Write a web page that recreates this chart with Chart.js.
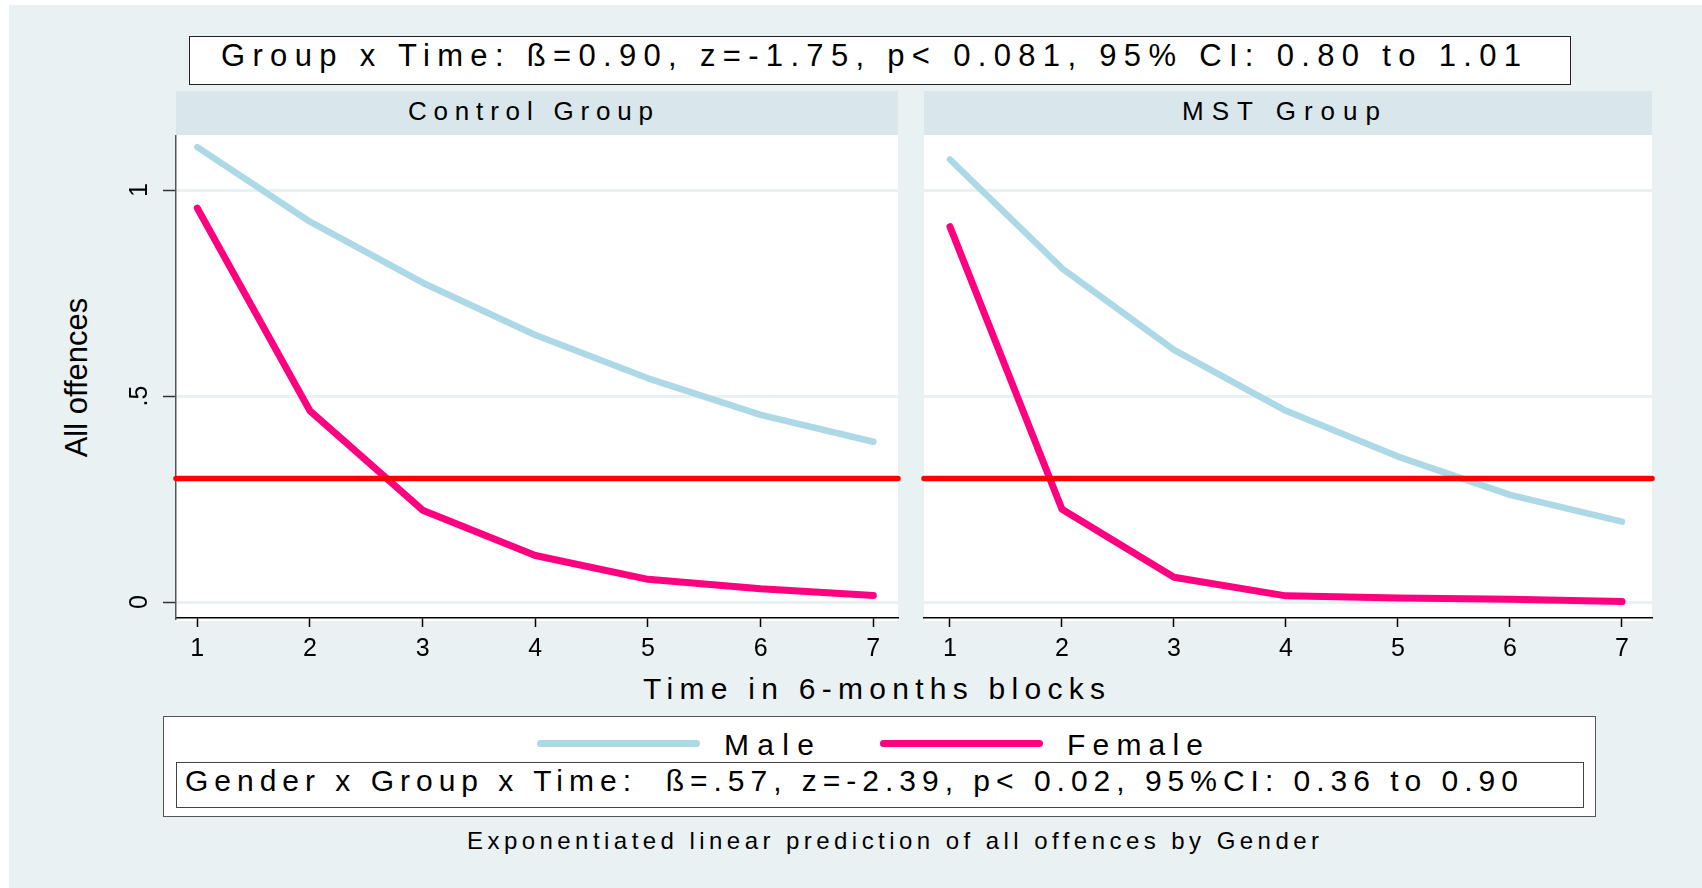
<!DOCTYPE html>
<html>
<head>
<meta charset="utf-8">
<title>All offences by gender, group and time</title>
<script src="https://cdn.jsdelivr.net/npm/chart.js@4.4.1/dist/chart.umd.min.js"></script>
<style>
  html, body { margin: 0; padding: 0; background: #fff; }
  #page { position: relative; width: 1702px; height: 888px; overflow: hidden;
          font-family: 'Liberation Sans', Arial, sans-serif; color: #000; }
  #bg { position: absolute; left: 9px; top: 5px; right: 0; bottom: 0; background: #eaf1f3; }
  .box { position: absolute; background: #fff; box-sizing: border-box; }
  .strip { position: absolute; background: #d9e6eb; }
  .txt { position: absolute; white-space: pre; line-height: 1; }
  .key { position: absolute; height: 7px; border-radius: 4px; }
  canvas { position: absolute; }
</style>
</head>
<body>
<div id="page">
  <div id="bg"></div>
  <div class="box" style="left:189px;top:36px;width:1382px;height:49px;border:1.5px solid #222;"></div>
  <div class="strip" style="left:176px;top:91px;width:722px;height:44px;"></div>
  <div class="strip" style="left:924px;top:91px;width:728px;height:44px;"></div>
  <canvas id="controlChart" width="792" height="533" style="left:110px;top:135px;"></canvas>
  <canvas id="mstChart" width="742" height="533" style="left:914px;top:135px;"></canvas>
  <div class="box" style="left:163px;top:716px;width:1433px;height:101px;border:1.5px solid #555;"></div>
  <div class="box" style="left:176px;top:762px;width:1408px;height:46px;border:1.5px solid #444;"></div>
  <div class="key" style="left:537px;top:739.5px;width:163px;background:#add8e6;"></div>
  <div class="key" style="left:880px;top:739.5px;width:163px;background:#ff0080;"></div>
</div>

<script>
// values (exponentiated linear prediction)
const timeBlocks = [1, 2, 3, 4, 5, 6, 7];
const controlMale   = [1.104, 0.923, 0.775, 0.648, 0.543, 0.454, 0.389];
const controlFemale = [0.956, 0.464, 0.223, 0.113, 0.055, 0.032, 0.016];
const mstMale       = [1.074, 0.810, 0.612, 0.464, 0.353, 0.260, 0.195];
const mstFemale     = [0.911, 0.225, 0.060, 0.015, 0.010, 0.007, 0.001];
const cutoff = 0.3;
const yTicks = [0, 0.5, 1];
const yTickLabels = ['0', '.5', '1'];

const FONT = "'Liberation Sans', Arial, sans-serif";
const page = document.getElementById('page');


/**
 * Put a line of text on the page, stretched with letter spacing to a given width
 */
function addText(txt, x0, x1, cy, size) {
    const d = document.createElement('div');
    d.className = 'txt';
    d.textContent = txt;
    d.style.fontSize = size + 'px';
    page.appendChild(d);
    const natural = d.getBoundingClientRect().width;
    d.style.letterSpacing = ((x1 - x0) - natural) / (txt.length - 1) + 'px';
    d.style.left = x0 + 'px';
    d.style.top = (cy - 0.4885 * size) + 'px';
    return d;
}

addText('Group x Time: ß=0.90, z=-1.75, p< 0.081, 95% CI: 0.80 to 1.01', 221, 1521, 55.5, 31);
addText('Control Group', 408, 653, 110.5, 26);
addText('MST Group', 1182, 1380, 110.5, 26);
addText('Time in 6-months blocks', 643, 1105, 689, 30);
addText('Male', 724, 814, 745, 30);
addText('Female', 1067, 1203, 745, 30);
addText('Gender x Group x Time:  ß=.57, z=-2.39, p< 0.02, 95%CI: 0.36 to 0.90', 185, 1518, 781, 30);
addText('Exponentiated linear prediction of all offences by Gender', 467, 1319, 840.3, 24);

// y axis title, rotated
(function () {
    const d = document.createElement('div');
    d.className = 'txt';
    d.textContent = 'All offences';
    d.style.fontSize = '31px';
    page.appendChild(d);
    const w = d.getBoundingClientRect().width;
    d.style.left = (77 - w / 2) + 'px';
    d.style.top = (377 - 15.5) + 'px';
    d.style.transform = 'rotate(-90deg)';
})();


// white plot region behind the lines
const plotBackground = {
    id: 'plotBackground',
    beforeDraw(chart) {
        const { ctx, chartArea: a } = chart;
        ctx.save();
        ctx.fillStyle = '#fff';
        ctx.fillRect(a.left, a.top, a.right - a.left, a.bottom - a.top + 3);
        ctx.restore();
    }
};

// Stata style vertical tick labels on the y axis
const rotatedYLabels = {
    id: 'rotatedYLabels',
    afterDraw(chart) {
        const s = chart.scales.y;
        const ctx = chart.ctx;
        ctx.save();
        ctx.font = '25px ' + FONT;
        ctx.fillStyle = '#000';
        ctx.textAlign = 'center';
        ctx.textBaseline = 'middle';
        s.ticks.forEach((t, i) => {
            ctx.save();
            ctx.translate(s.left - 22.5, s.getPixelForValue(t.value));
            ctx.rotate(-Math.PI / 2);
            ctx.fillText(yTickLabels[i], 0, 0);
            ctx.restore();
        });
        ctx.restore();
    }
};


function panelChart(canvasId, male, female, xMin, xMax, showYAxis, padLeft) {
    const toPoints = vals => timeBlocks.map((t, i) => ({ x: t, y: vals[i] }));

    return new Chart(document.getElementById(canvasId), {
        type: 'line',
        data: {
            datasets: [
                {
                    label: 'cutoff',
                    data: [{ x: xMin, y: cutoff }, { x: xMax, y: cutoff }],
                    borderColor: '#ff0000',
                    borderWidth: 5.5,
                    clip: 10
                },
                { label: 'Male', data: toPoints(male), borderColor: '#add8e6', borderWidth: 6.5 },
                { label: 'Female', data: toPoints(female), borderColor: '#ff0080', borderWidth: 7 }
            ]
        },
        options: {
            responsive: false,
            maintainAspectRatio: false,
            animation: false,
            events: [],
            layout: { autoPadding: false, padding: { left: padLeft, right: 4, top: 0, bottom: 0 } },
            elements: {
                point: { radius: 0, hoverRadius: 0 },
                line: { tension: 0, borderCapStyle: 'round', borderJoinStyle: 'round' }
            },
            plugins: { legend: { display: false }, tooltip: { enabled: false } },
            scales: {
                x: {
                    type: 'linear',
                    min: xMin,
                    max: xMax,
                    afterBuildTicks: s => { s.ticks = timeBlocks.map(v => ({ value: v })); },
                    afterFit: s => { s.height = 50; },
                    grid: { drawOnChartArea: false, drawTicks: true, tickLength: 9, tickColor: '#000', tickWidth: 1.5 },
                    border: { display: true, color: '#000', width: 1.5 },
                    ticks: { padding: 7, color: '#000', font: { family: FONT, size: 25 }, autoSkip: false, maxRotation: 0 }
                },
                y: {
                    min: -0.0388,
                    max: 1.1335,
                    afterBuildTicks: s => { s.ticks = yTicks.map(v => ({ value: v })); },
                    afterFit: s => { s.width = showYAxis ? 13 : 0; },
                    grid: { color: '#eaf1f3', lineWidth: 3, drawTicks: showYAxis, tickLength: 13, tickColor: '#333', tickWidth: 1.5 },
                    border: { display: showYAxis, color: '#555', width: 1.5 },
                    ticks: { display: false }
                }
            }
        },
        plugins: showYAxis ? [plotBackground, rotatedYLabels] : [plotBackground]
    });
}

panelChart('controlChart', controlMale, controlFemale, 0.811, 7.219, true, 53);
panelChart('mstChart', mstMale, mstFemale, 0.768, 7.268, false, 10);
</script>
</body>
</html>
